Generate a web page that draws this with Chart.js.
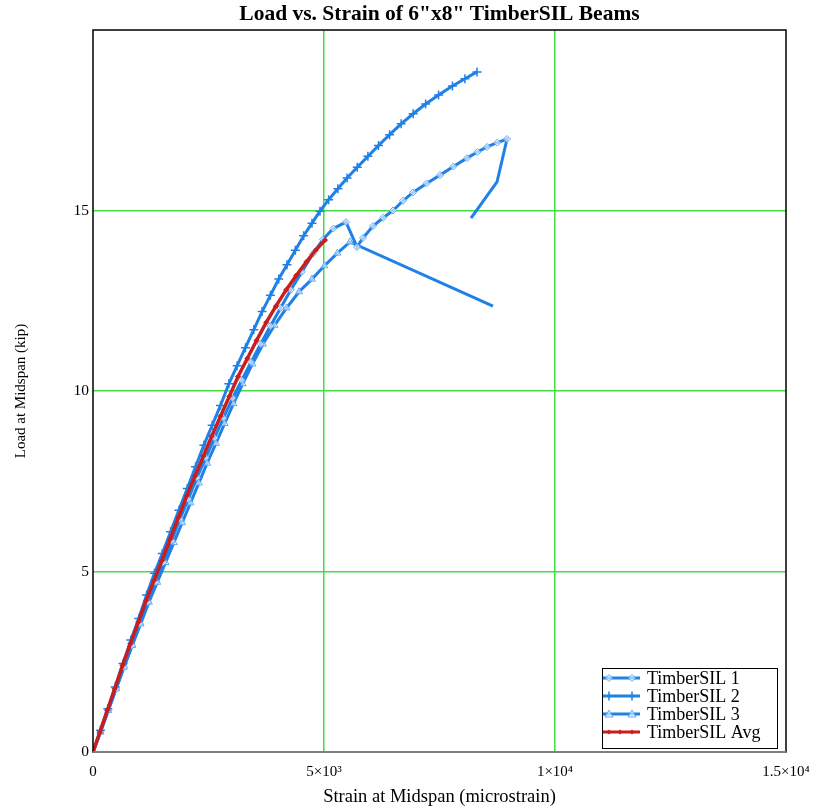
<!DOCTYPE html>
<html>
<head>
<meta charset="utf-8">
<script src="https://cdn.jsdelivr.net/npm/chart.js@4.4.1/dist/chart.umd.min.js"></script>
<style>
  html, body { margin: 0; padding: 0; background: #fff; }
  #wrap { width: 817px; height: 811px; }
</style>
</head>
<body>
<div id="wrap"><canvas id="chart" width="817" height="811"></canvas></div>
<script>
  // values (strain in microstrain, load in kip)
  var chartTitle = 'Load vs. Strain of 6"x8" TimberSIL Beams';
  var seriesNames = ['TimberSIL 1', 'TimberSIL 2', 'TimberSIL 3', 'TimberSIL Avg'];

  var strain1 = [0, 160, 330, 500, 670, 840, 1010, 1180, 1350, 1520, 1700, 1880, 2060, 2250, 2440, 2630, 2820, 3020, 3220, 3420,
                 3630, 3840, 4060, 4280, 4520, 4762, 4978, 5200, 5476, 5714, 5844, 6061, 6280, 6494, 6710, 6927, 7220, 7511, 7800, 8095,
                 8320, 8528, 8750, 8961, 8745, 8182];
  var load1 = [0, 0.55, 1.15, 1.75, 2.35, 2.95, 3.55, 4.15, 4.7, 5.25, 5.85, 6.45, 7.0, 7.6, 8.15, 8.7, 9.25, 9.8, 10.3, 10.8,
               11.3, 11.8, 12.3, 12.8, 13.3, 13.8, 14.2, 14.5, 14.68, 13.99, 14.24, 14.57, 14.8, 15.0, 15.27, 15.5, 15.75, 15.98, 16.22, 16.45,
               16.62, 16.76, 16.88, 16.98, 15.79, 14.79];

  var strain2 = [0, 160, 320, 480, 650, 820, 990, 1160, 1330, 1500, 1680, 1860, 2040, 2220, 2400, 2580, 2760, 2940, 3120, 3300,
                 3480, 3660, 3840, 4020, 4200, 4380, 4560, 4740, 4913, 5100, 5300, 5500, 5720, 5950, 6180, 6420, 6670, 6930, 7200, 7480,
                 7780, 8050, 8312];
  var load2 = [0, 0.6, 1.2, 1.8, 2.45, 3.1, 3.7, 4.35, 4.95, 5.5, 6.1, 6.7, 7.3, 7.9, 8.5, 9.05, 9.6, 10.2, 10.7, 11.2,
               11.7, 12.2, 12.65, 13.1, 13.5, 13.9, 14.3, 14.65, 14.98, 15.3, 15.6, 15.9, 16.2, 16.5, 16.8, 17.1, 17.4, 17.68, 17.95, 18.2,
               18.45, 18.65, 18.84];

  var strain3 = [0, 160, 330, 500, 670, 850, 1030, 1210, 1390, 1570, 1750, 1930, 2110, 2290, 2470, 2660, 2850, 3040, 3240, 3450,
                 3680, 3930, 4190, 4460, 4740, 5010, 5290, 5563, 8658];
  var load3 = [0, 0.55, 1.15, 1.75, 2.35, 2.95, 3.55, 4.15, 4.7, 5.25, 5.8, 6.35, 6.9, 7.45, 8.0, 8.55, 9.1, 9.65, 10.2, 10.75,
               11.3, 11.82, 12.3, 12.75, 13.1, 13.47, 13.82, 14.13, 12.35];

  var strainAvg = [0, 150, 310, 470, 640, 810, 980, 1150, 1320, 1490, 1670, 1850, 2030, 2210, 2390, 2570, 2760, 2950, 3140, 3340,
                   3540, 3750, 3960, 4180, 4400, 4620, 4820, 5022];
  var loadAvg = [0, 0.55, 1.15, 1.75, 2.4, 3.0, 3.6, 4.2, 4.75, 5.3, 5.9, 6.5, 7.1, 7.65, 8.2, 8.75, 9.3, 9.85, 10.4, 10.9,
                 11.4, 11.9, 12.35, 12.8, 13.2, 13.58, 13.9, 14.18];

  var xTicks = [0, 5000, 10000, 15000];
  var xTickLabels = ['0', '5×10³', '1×10⁴', '1.5×10⁴'];
  var yTicks = [0, 5, 10, 15];
  var yTickLabels = ['0', '5', '10', '15'];


  var BLUE = '#1f80e8',
      BLUE_MARK = '#5ea8f0',
      RED = '#c81e1e',
      GREEN = '#44dd44',
      SERIF = '"Liberation Serif", "Times New Roman", serif';

  function pts(xs, ys) {
    return xs.map(function (x, i) { return { x: x, y: ys[i] }; });
  }

  // markers are not drawn on the unloading legs
  function hideAfter(n, r) {
    return function (c) { return c.dataIndex >= n ? 0 : r; };
  }

  function drawMark(ctx, style, x, y) {
    ctx.save();
    ctx.lineWidth = 1;
    if (style === 'diamond') {
      ctx.strokeStyle = BLUE_MARK;
      ctx.fillStyle = 'rgba(255,255,255,0.6)';
      ctx.beginPath();
      ctx.moveTo(x, y - 3.5); ctx.lineTo(x + 3.5, y); ctx.lineTo(x, y + 3.5); ctx.lineTo(x - 3.5, y); ctx.closePath();
      ctx.fill(); ctx.stroke();
    } else if (style === 'cross') {
      ctx.strokeStyle = BLUE;
      ctx.lineWidth = 1.5;
      ctx.beginPath();
      ctx.moveTo(x, y - 4.5); ctx.lineTo(x, y + 4.5);
      ctx.moveTo(x - 4.5, y); ctx.lineTo(x + 4.5, y);
      ctx.stroke();
    } else if (style === 'triangle') {
      ctx.strokeStyle = BLUE_MARK;
      ctx.fillStyle = 'rgba(255,255,255,0.6)';
      ctx.beginPath();
      ctx.moveTo(x, y - 4); ctx.lineTo(x + 4, y + 3); ctx.lineTo(x - 4, y + 3); ctx.closePath();
      ctx.fill(); ctx.stroke();
    } else {
      ctx.fillStyle = RED;
      ctx.beginPath();
      ctx.moveTo(x, y - 2.5); ctx.lineTo(x + 2.5, y); ctx.lineTo(x, y + 2.5); ctx.lineTo(x - 2.5, y); ctx.closePath();
      ctx.fill();
    }
    ctx.restore();
  }

  // box round the plot + title centred over the plot area
  var frame = {
    id: 'frame',
    afterDatasetsDraw: function (chart) {
      var a = chart.chartArea, ctx = chart.ctx;
      ctx.save();
      ctx.strokeStyle = '#000';
      ctx.lineWidth = 1.5;
      ctx.strokeRect(a.left, a.top, a.right - a.left, a.bottom - a.top);
      ctx.strokeStyle = '#808080';
      ctx.lineWidth = 2;
      ctx.beginPath();
      ctx.moveTo(a.left, a.bottom); ctx.lineTo(a.right, a.bottom);
      ctx.stroke();

      ctx.fillStyle = '#000';
      ctx.font = 'bold 21.5px ' + SERIF;
      ctx.textAlign = 'center';
      ctx.textBaseline = 'middle';
      ctx.fillText(chartTitle, (a.left + a.right) / 2, 14);
      ctx.restore();
    }
  };

  var boxLegend = {
    id: 'boxLegend',
    afterDraw: function (chart) {
      var a = chart.chartArea, ctx = chart.ctx;
      var w = 175, h = 80;
      var x0 = a.right - 9 - w, y0 = a.bottom - 4 - h;
      var marks = ['diamond', 'cross', 'triangle', 'avg'];
      ctx.save();
      ctx.fillStyle = '#fff';
      ctx.fillRect(x0, y0, w, h);
      ctx.strokeStyle = '#000';
      ctx.lineWidth = 1;
      ctx.strokeRect(x0 + 0.5, y0 + 0.5, w, h);
      ctx.font = '18px ' + SERIF;
      ctx.textBaseline = 'middle';
      ctx.fillStyle = '#000';
      seriesNames.forEach(function (name, i) {
        var y = y0 + 10 + i * 18;
        ctx.strokeStyle = i === 3 ? RED : BLUE;
        ctx.lineWidth = 3;
        ctx.beginPath();
        ctx.moveTo(x0 + 1, y); ctx.lineTo(x0 + 38, y);
        ctx.stroke();
        drawMark(ctx, marks[i], x0 + 7, y);
        drawMark(ctx, marks[i], x0 + 30, y);
        if (i === 3) drawMark(ctx, marks[i], x0 + 18, y);
        ctx.fillStyle = '#000';
        ctx.fillText(name, x0 + 45, y + 1);
      });
      ctx.restore();
    }
  };

  function gridColor(max) {
    return function (c) {
      var v = c.tick ? c.tick.value : 0;
      return (v === 0 || v === max) ? 'rgba(0,0,0,0)' : GREEN;
    };
  }

  var chart = new Chart(document.getElementById('chart').getContext('2d'), {
    type: 'scatter',
    data: {
      datasets: [{
        label: seriesNames[0],
        data: pts(strain1, load1),
        showLine: true,
        borderColor: BLUE,
        borderWidth: 3,
        pointStyle: 'rectRot',
        pointRadius: hideAfter(44, 3.5),
        pointBorderColor: BLUE_MARK,
        pointBackgroundColor: 'rgba(255,255,255,0.6)',
        pointBorderWidth: 1,
        order: 2
      }, {
        label: seriesNames[1],
        data: pts(strain2, load2),
        showLine: true,
        borderColor: BLUE,
        borderWidth: 3,
        pointStyle: 'cross',
        pointRadius: 4.5,
        pointBorderColor: BLUE,
        pointBorderWidth: 1.5,
        order: 1
      }, {
        label: seriesNames[2],
        data: pts(strain3, load3),
        showLine: true,
        borderColor: BLUE,
        borderWidth: 3,
        pointStyle: 'triangle',
        pointRadius: hideAfter(28, 4),
        pointBorderColor: BLUE_MARK,
        pointBackgroundColor: 'rgba(255,255,255,0.6)',
        pointBorderWidth: 1,
        order: 3
      }, {
        label: seriesNames[3],
        data: pts(strainAvg, loadAvg),
        showLine: true,
        borderColor: RED,
        borderWidth: 3.5,
        pointStyle: 'rectRot',
        pointRadius: 2.5,
        pointBorderColor: RED,
        pointBackgroundColor: RED,
        pointBorderWidth: 1,
        order: 0
      }]
    },
    options: {
      responsive: false,
      animation: false,
      layout: { padding: { left: 0, right: 31, top: 30, bottom: 0 } },
      plugins: {
        legend: { display: false },
        tooltip: { enabled: false },
        title: { display: false }
      },
      scales: {
        x: {
          type: 'linear',
          min: 0,
          max: 15000,
          afterBuildTicks: function (s) { s.ticks = xTicks.map(function (v) { return { value: v }; }); },
          afterFit: function (s) { s.height = 59; s.paddingLeft = 0; s.paddingRight = 0; },
          ticks: {
            autoSkip: false,
            maxRotation: 0,
            padding: 11,
            color: '#000',
            font: { family: SERIF, size: 15 },
            callback: function (v) { return xTickLabels[xTicks.indexOf(v)]; }
          },
          grid: { color: gridColor(15000), lineWidth: 1.5, drawTicks: false },
          border: { display: false },
          title: {
            display: true,
            text: 'Strain at Midspan (microstrain)',
            color: '#000',
            font: { family: SERIF, size: 18.5 },
            padding: { top: 0, bottom: 3 }
          }
        },
        y: {
          type: 'linear',
          min: 0,
          max: 20,
          afterBuildTicks: function (s) { s.ticks = yTicks.map(function (v) { return { value: v }; }); },
          afterFit: function (s) { s.width = 93; s.paddingTop = 0; s.paddingBottom = 0; },
          ticks: {
            autoSkip: false,
            padding: 4,
            color: '#000',
            font: { family: SERIF, size: 15.5 },
            callback: function (v) { return yTickLabels[yTicks.indexOf(v)]; }
          },
          grid: { color: gridColor(20), lineWidth: 1.5, drawTicks: false },
          border: { display: false },
          title: {
            display: true,
            text: 'Load at Midspan (kip)',
            color: '#000',
            font: { family: SERIF, size: 15 },
            padding: { top: 12, bottom: 0 }
          }
        }
      }
    },
    plugins: [frame, boxLegend]
  });
</script>
</body>
</html>
